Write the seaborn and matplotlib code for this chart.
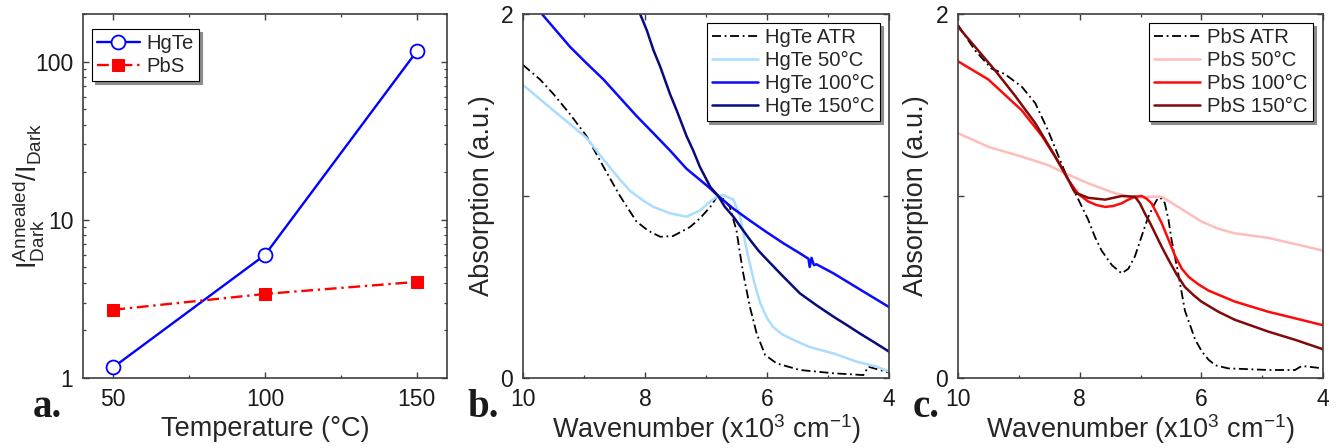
import matplotlib
matplotlib.use("Agg")
import matplotlib.pyplot as plt
import seaborn as sns
import numpy as np
from matplotlib.ticker import MultipleLocator, FixedLocator, NullFormatter, LogLocator

# ---------------- data ----------------
temps = [50, 100, 150]
hgte_ratio = [1.17, 6.0, 116]
pbs_ratio = [2.7, 3.4, 4.05]

hgte_atr_w = [10.0, 9.72, 9.50, 9.23, 8.96, 8.68, 8.41, 8.14, 7.95, 7.75, 7.54, 7.26, 7.10, 6.93, 6.82,
              6.72, 6.61, 6.50, 6.45, 6.39, 6.28, 6.17, 6.03, 5.84, 5.46, 4.91, 4.42, 4.34, 4.15, 4.0]
hgte_atr_a = [1.72, 1.64, 1.56, 1.45, 1.33, 1.16, 1.00, 0.86, 0.81, 0.776, 0.78, 0.83, 0.877, 0.94, 0.996,
              0.985, 0.94, 0.81, 0.70, 0.575, 0.39, 0.245, 0.126, 0.08, 0.044, 0.026, 0.016, 0.062, 0.044, 0.03]

hgte_50_w = [10.0, 9.50, 8.96, 8.68, 8.41, 8.25, 8.03, 7.86, 7.59, 7.32, 7.10, 6.93, 6.80, 6.72, 6.55,
             6.44, 6.33, 6.22, 6.11, 6.0, 5.90, 5.75, 5.57, 5.30, 4.91, 4.53, 4.20, 4.0]
hgte_50_a = [1.61, 1.47, 1.32, 1.20, 1.09, 1.03, 0.975, 0.94, 0.905, 0.886, 0.92, 0.97, 1.0, 1.005, 0.98,
             0.886, 0.70, 0.54, 0.41, 0.33, 0.28, 0.24, 0.21, 0.17, 0.135, 0.09, 0.062, 0.035]

hgte_100_w = [9.69, 9.23, 8.96, 8.68, 8.41, 8.14, 7.86, 7.59, 7.32, 6.96, 6.80, 6.55, 6.28, 6.0, 5.73,
              5.46, 5.32, 5.30, 5.27, 5.23, 5.19, 4.91, 4.64, 4.37, 4.0]
hgte_100_a = [2.0, 1.82, 1.73, 1.64, 1.54, 1.44, 1.344, 1.25, 1.15, 1.05, 1.0, 0.93, 0.865, 0.80, 0.74,
              0.685, 0.655, 0.61, 0.66, 0.62, 0.625, 0.575, 0.52, 0.465, 0.39]

hgte_150_w = [8.08, 7.97, 7.86, 7.75, 7.59, 7.48, 7.32, 7.21, 7.10, 6.93, 6.80, 6.69, 6.55, 6.41, 6.28,
              6.14, 6.0, 5.73, 5.46, 5.19, 4.91, 4.64, 4.48, 4.26, 4.0]
hgte_150_a = [2.0, 1.91, 1.80, 1.71, 1.56, 1.47, 1.33, 1.25, 1.16, 1.05, 1.0, 0.94, 0.886, 0.82, 0.76,
              0.70, 0.65, 0.556, 0.465, 0.40, 0.337, 0.28, 0.245, 0.20, 0.145]

pbs_atr_w = [10.0, 9.72, 9.45, 9.23, 8.95, 8.73, 8.52, 8.35, 8.19, 8.02, 7.86, 7.75, 7.64, 7.47, 7.31,
             7.20, 7.09, 6.93, 6.87, 6.78, 6.71, 6.65, 6.60, 6.54, 6.49, 6.38, 6.27, 6.10, 5.99, 5.88,
             5.77, 5.56, 4.90, 4.46, 4.35, 4.0]
pbs_atr_a = [1.94, 1.80, 1.70, 1.67, 1.60, 1.51, 1.36, 1.22, 1.09, 0.98, 0.87, 0.776, 0.70, 0.62, 0.575,
             0.60, 0.67, 0.83, 0.886, 0.95, 0.99, 0.985, 0.96, 0.87, 0.76, 0.575, 0.37, 0.21, 0.145, 0.10,
             0.07, 0.053, 0.044, 0.044, 0.066, 0.053]

pbs_50_w = [10.0, 9.50, 8.95, 8.52, 8.24, 7.86, 7.42, 7.09, 6.87, 6.65, 6.38, 6.0, 5.72, 5.45, 4.90,
            4.46, 4.0]
pbs_50_a = [1.345, 1.27, 1.216, 1.17, 1.125, 1.07, 1.015, 0.99, 0.996, 0.996, 0.94, 0.86, 0.82, 0.795,
            0.77, 0.736, 0.70]

pbs_100_w = [10.0, 9.50, 8.95, 8.62, 8.41, 8.19, 8.02, 7.86, 7.72, 7.58, 7.45, 7.31, 7.20, 7.09, 6.98,
             6.90, 6.82, 6.74, 6.65, 6.54, 6.43, 6.32, 6.21, 6.05, 5.88, 5.45, 4.90, 4.46, 4.0]
pbs_100_a = [1.74, 1.64, 1.47, 1.33, 1.22, 1.09, 1.01, 0.97, 0.95, 0.94, 0.945, 0.96, 0.98, 0.996, 1.0,
             0.985, 0.96, 0.91, 0.85, 0.76, 0.67, 0.60, 0.556, 0.515, 0.48, 0.42, 0.364, 0.328, 0.29]

pbs_150_w = [10.0, 9.72, 9.39, 9.06, 8.73, 8.46, 8.24, 8.08, 7.86, 7.58, 7.31, 7.09, 7.01, 6.93, 6.84,
             6.76, 6.65, 6.54, 6.40, 6.27, 6.13, 6.0, 5.72, 5.45, 4.90, 4.46, 4.0]
pbs_150_a = [1.93, 1.82, 1.69, 1.55, 1.40, 1.25, 1.125, 1.02, 0.99, 0.98, 1.0, 0.996, 0.96, 0.905, 0.85,
             0.795, 0.72, 0.65, 0.566, 0.50, 0.456, 0.42, 0.364, 0.32, 0.255, 0.21, 0.158]

hgte_labels = ["HgTe ATR", "HgTe 50°C", "HgTe 100°C", "HgTe 150°C"]
pbs_labels = ["PbS ATR", "PbS 50°C", "PbS 100°C", "PbS 150°C"]

# ---------------- style ----------------
sns.set_theme(style="ticks")
plt.rcParams["font.family"] = ["Liberation Sans", "DejaVu Sans"]
plt.rcParams["mathtext.fontset"] = "custom"
plt.rcParams["mathtext.rm"] = "Liberation Sans"
plt.rcParams["mathtext.it"] = "Liberation Sans:italic"
plt.rcParams["mathtext.bf"] = "Liberation Sans:bold"

W, H = 1342, 448
fig = plt.figure(figsize=(W / 100, H / 100), dpi=100)
fig.patch.set_facecolor("white")

def px_axes(left, right, top, bottom):
    return fig.add_axes([left / W, 1 - bottom / H, (right - left) / W, (bottom - top) / H])

axa = px_axes(83, 447, 14, 378)
axb = px_axes(523, 889, 14, 378)
axc = px_axes(958, 1323, 14, 378)

TICK_FS = 16.5
LABEL_FS = 19.5
LEG_FS = 14.6
SPINE = "#404040"

def style_axes(ax):
    for s in ax.spines.values():
        s.set_color(SPINE)
        s.set_linewidth(1.2)
    ax.tick_params(which="both", direction="in", top=True, right=True, color=SPINE,
                   labelsize=TICK_FS, labelcolor="#1a1a1a")
    ax.tick_params(which="major", length=4.5, width=1.0, pad=7)
    ax.tick_params(which="minor", length=2.5, width=0.9)
    ax.set_facecolor("white")

def legend(ax, anchor, loc, hl=2.3):
    leg = ax.legend(loc=loc, bbox_to_anchor=anchor, borderaxespad=0, fontsize=LEG_FS,
                    frameon=True, fancybox=False, edgecolor="black", framealpha=1,
                    shadow={"facecolor": "0.55", "edgecolor": "0.55", "alpha": 1},
                    handlelength=hl, handletextpad=0.35, labelspacing=0.2,
                    borderpad=0.25)
    leg.get_frame().set_linewidth(0.8)
    return leg

# ---------------- panel a ----------------
sns.lineplot(x=temps, y=hgte_ratio, ax=axa, color="#0000ff", linewidth=1.7,
             marker="o", markersize=10, markerfacecolor="white", markeredgecolor="#0000ff",
             markeredgewidth=1.3, label="HgTe", estimator=None, sort=False)
sns.lineplot(x=temps, y=pbs_ratio, ax=axa, color="#ff0000", linewidth=1.7,
             linestyle=(0, (5, 2, 1, 2)), marker="s", markersize=9, markerfacecolor="#ff0000",
             markeredgecolor="#ff0000", label="PbS", estimator=None, sort=False)
axa.set_yscale("log")
axa.set_ylim(1, 200)
axa.set_xlim(40, 160)
axa.set_xticks([50, 100, 150])
axa.xaxis.set_minor_locator(FixedLocator([75, 125]))
axa.set_yticks([1, 10, 100])
axa.set_yticklabels(["1", "10", "100"])
axa.yaxis.set_minor_locator(LogLocator(base=10, subs=np.arange(2, 10)))
axa.yaxis.set_minor_formatter(NullFormatter())
style_axes(axa)
axa.set_xlabel("Temperature (°C)", fontsize=LABEL_FS)
axa.set_ylabel(r"$\mathregular{I_{Dark}^{Annealed}/I_{Dark}}$", fontsize=LABEL_FS)
axa.xaxis.set_label_coords(0.5, -(416 - 378) / 364)
axa.yaxis.set_label_coords(-(83 - 46) / 364, 0.5)
legend(axa, (9 / 364, 1 - 15 / 364), "upper left", hl=2.1)

# ---------------- panels b, c ----------------
def spectra(ax, ws, As, labels, colors):
    for i, (w, a, lab, col) in enumerate(zip(ws, As, labels, colors)):
        if i == 0:
            sns.lineplot(x=w, y=a, ax=ax, color=col, linewidth=1.3, linestyle=(0, (5, 2, 1, 2)),
                         label=lab, estimator=None, sort=False)
        else:
            sns.lineplot(x=w, y=a, ax=ax, color=col, linewidth=1.8, label=lab,
                         estimator=None, sort=False)
    ax.set_xlim(10, 4)
    ax.set_ylim(0, 2)
    ax.set_xticks([10, 8, 6, 4])
    ax.set_xticklabels(["10", "8", "6", "4"])
    ax.xaxis.set_minor_locator(MultipleLocator(1))
    ax.set_yticks([0, 1, 2])
    ax.set_yticklabels(["0", "", "2"])
    style_axes(ax)
    ax.set_xlabel(r"Wavenumber (x10$^{3}$ cm$^{-1}$)", fontsize=LABEL_FS)
    ax.set_ylabel("Absorption (a.u.)", fontsize=LABEL_FS)
    ax.xaxis.set_label_coords(0.5, -(412 - 378) / 364)

spectra(axb, [hgte_atr_w, hgte_50_w, hgte_100_w, hgte_150_w],
        [hgte_atr_a, hgte_50_a, hgte_100_a, hgte_150_a], hgte_labels,
        ["black", "#aadcff", "#0a0aff", "#0a0a80"])
axb.yaxis.set_label_coords(-(523 - 495) / 366, 0.5)
legend(axb, (1 - 9 / 366, 1 - 9 / 364), "upper right")

spectra(axc, [pbs_atr_w, pbs_50_w, pbs_100_w, pbs_150_w],
        [pbs_atr_a, pbs_50_a, pbs_100_a, pbs_150_a], pbs_labels,
        ["black", "#ffbcbc", "#ff0a0a", "#800a0a"])
axc.yaxis.set_label_coords(-(958 - 929) / 365, 0.5)
legend(axc, (1 - 10 / 365, 1 - 9 / 364), "upper right")

# panel letters
for txt, xr in [("a.", 62), ("b.", 499), ("c.", 940)]:
    fig.text(xr / W, 1 - 417 / H, txt, ha="right", va="baseline", fontsize=28,
             fontweight="bold", family="Liberation Serif", color="#1a1a1a")

fig.savefig("out.png", dpi=100, facecolor="white")
